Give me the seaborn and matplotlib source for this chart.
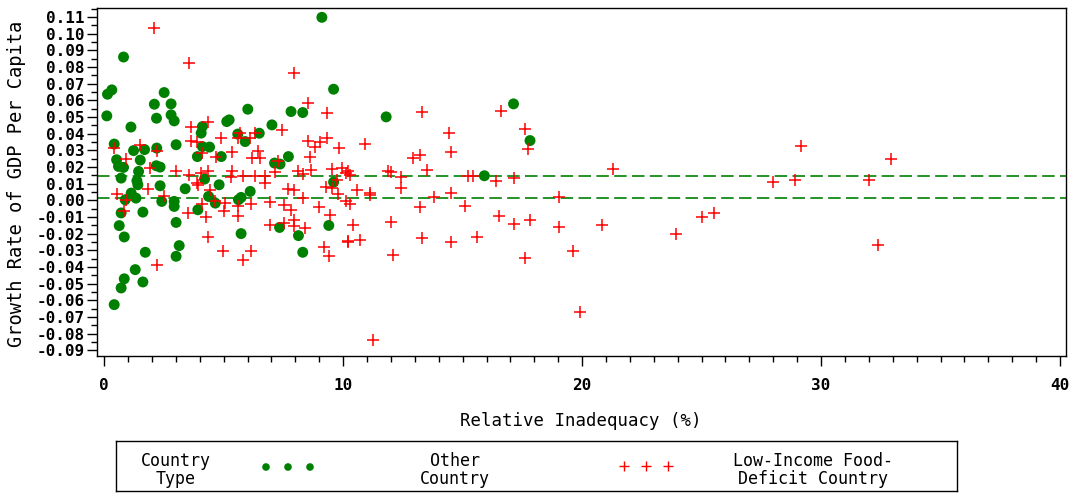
import numpy as np
import pandas as pd
import matplotlib
matplotlib.use("Agg")
import matplotlib.pyplot as plt
from matplotlib.ticker import MultipleLocator, FixedLocator
import seaborn as sns

# Relative inadequacy (%) and growth rate of GDP per capita, by country type
other_x = [0.81, 0.14, 0.32, 2.51, 2.10, 2.80, 0.11, 2.19, 2.80, 2.93, 1.12, 4.11,
           4.06, 0.42, 1.23, 1.69, 1.51, 2.20, 3.01, 0.52, 0.60, 0.81, 1.44, 2.18,
           2.34, 3.90, 4.11, 4.41, 4.20, 0.71, 1.37, 4.90, 1.41, 2.34, 3.39, 4.81,
           1.13, 0.88, 1.33, 2.41, 2.93, 2.93, 4.37, 4.65, 3.92, 0.71, 1.62, 3.01,
           0.63, 0.84, 3.14, 1.72, 3.01, 1.30, 0.84, 1.62, 0.71, 0.42, 9.11, 9.60,
           6.01, 7.82, 8.31, 5.13, 5.23, 7.02, 5.59, 5.90, 6.49, 7.71, 7.13, 7.36,
           6.11, 5.73, 5.62, 9.60, 9.40, 7.34, 5.73, 8.13, 8.31, 11.80, 17.13, 17.82,
           15.91]
other_y = [0.0860, 0.0637, 0.0663, 0.0647, 0.0577, 0.0579, 0.0507, 0.0493, 0.0513,
           0.0477, 0.0440, 0.0443, 0.0404, 0.0338, 0.0299, 0.0305, 0.0242, 0.0314,
           0.0334, 0.0244, 0.0204, 0.0198, 0.0174, 0.0208, 0.0200, 0.0263, 0.0323,
           0.0320, 0.0128, 0.0134, 0.0118, 0.0263, 0.0094, 0.0088, 0.0070, 0.0094,
           0.0044, 0.0004, 0.0014, -0.0006, -0.0006, -0.0036, 0.0024, -0.0016,
           -0.0056, -0.0075, -0.0070, -0.0132, -0.0151, -0.0219, -0.0271, -0.0311,
           -0.0335, -0.0415, -0.0470, -0.0489, -0.0525, -0.0625, 0.1098, 0.0667,
           0.0547, 0.0533, 0.0527, 0.0473, 0.0483, 0.0453, 0.0398, 0.0353, 0.0403,
           0.0263, 0.0224, 0.0218, 0.0054, 0.0018, 0.0004, 0.0110, -0.0150, -0.0162,
           -0.0199, -0.0211, -0.0311, 0.0501, 0.0579, 0.0359, 0.0148]

lifdc_x = [2.10, 3.53, 3.64, 4.34, 4.90, 3.64, 3.88, 1.51, 0.42, 2.20, 4.11, 4.70,
           0.92, 1.90, 3.01, 3.53, 4.06, 4.34, 3.88, 0.53, 0.92, 1.83, 2.51, 0.81,
           3.92, 4.44, 4.11, 4.64, 3.50, 4.26, 4.34, 2.20, 4.99, 7.95, 8.55, 9.34,
           7.43, 6.30, 5.69, 5.62, 6.11, 8.55, 9.04, 8.83, 9.34, 9.83, 6.43, 5.33,
           6.20, 6.53, 8.62, 7.29, 5.33, 5.30, 5.83, 6.32, 6.74, 7.15, 8.13, 8.30,
           8.65, 9.53, 9.95, 10.10, 10.30, 9.74, 6.74, 7.69, 7.95, 9.29, 9.53, 9.80,
           8.34, 6.92, 7.54, 7.82, 9.00, 10.10, 10.30, 5.06, 5.03, 5.62, 5.62, 6.15,
           9.43, 6.92, 7.54, 7.95, 7.95, 8.41, 10.40, 6.13, 5.83, 9.22, 9.41, 10.20,
           13.32, 16.61, 17.62, 17.73, 14.41, 14.51, 10.92, 12.92, 13.22, 13.53,
           10.20, 11.87, 12.00, 12.43, 15.24, 15.42, 16.39, 17.13, 10.60, 11.13,
           11.13, 12.43, 14.52, 13.82, 19.05, 13.22, 15.10, 16.54, 17.15, 17.82,
           19.04, 12.00, 10.22, 10.71, 13.32, 14.52, 15.62, 12.10, 17.60, 11.23,
           21.31, 20.85, 19.64, 19.92, 23.93, 25.00, 25.52, 28.00, 28.91, 29.18,
           32.02, 32.92, 32.40]
lifdc_y = [0.1032, 0.0823, 0.0440, 0.0473, 0.0374, 0.0357, 0.0353, 0.0334, 0.0317,
           0.0299, 0.0284, 0.0260, 0.0250, 0.0194, 0.0174, 0.0154, 0.0164, 0.0174,
           0.0104, 0.0040, 0.0000, 0.0070, 0.0024, -0.0066, 0.0094, 0.0064, -0.0022,
           -0.0002, -0.0075, -0.0099, -0.0221, -0.0385, -0.0301, 0.0763, 0.0583,
           0.0527, 0.0423, 0.0403, 0.0403, 0.0377, 0.0374, 0.0357, 0.0353, 0.0323,
           0.0374, 0.0314, 0.0299, 0.0290, 0.0254, 0.0254, 0.0263, 0.0234, 0.0174,
           0.0140, 0.0144, 0.0144, 0.0144, 0.0168, 0.0174, 0.0158, 0.0180, 0.0188,
           0.0194, 0.0164, 0.0154, 0.0124, 0.0104, 0.0070, 0.0060, 0.0078, 0.0074,
           0.0040, 0.0014, -0.0010, -0.0026, -0.0056, -0.0040, -0.0006, -0.0022,
           -0.0016, -0.0066, -0.0036, -0.0096, -0.0022, -0.0086, -0.0146, -0.0135,
           -0.0116, -0.0156, -0.0165, -0.0146, -0.0301, -0.0355, -0.0279, -0.0331,
           -0.0246, 0.0529, 0.0537, 0.0429, 0.0310, 0.0407, 0.0293, 0.0340, 0.0254,
           0.0274, 0.0180, 0.0174, 0.0174, 0.0168, 0.0138, 0.0144, 0.0144, 0.0118,
           0.0134, 0.0064, 0.0044, 0.0030, 0.0074, 0.0044, 0.0020, 0.0018, -0.0040,
           -0.0032, -0.0092, -0.0141, -0.0116, -0.0162, -0.0130, -0.0251, -0.0240,
           -0.0225, -0.0251, -0.0221, -0.0325, -0.0345, -0.0840, 0.0188, -0.0150,
           -0.0305, -0.0668, -0.0199, -0.0100, -0.0075, 0.0110, 0.0120, 0.0329,
           0.0120, 0.0248, -0.0269]

# Horizontal reference levels of the growth rate
ref_levels = [0.0144, 0.0014]

x_ticks = [0, 10, 20, 30, 40]
y_ticks = [-0.09, -0.08, -0.07, -0.06, -0.05, -0.04, -0.03, -0.02, -0.01, 0.00,
           0.01, 0.02, 0.03, 0.04, 0.05, 0.06, 0.07, 0.08, 0.09, 0.10, 0.11]
y_tick_labels = ["-0.09", "-0.08", "-0.07", "-0.06", "-0.05", "-0.04", "-0.03",
                 "-0.02", "-0.01", "0.00", "0.01", "0.02", "0.03", "0.04", "0.05",
                 "0.06", "0.07", "0.08", "0.09", "0.10", "0.11"]

type_names = ["Other\nCountry", "Low-Income Food-\nDeficit Country"]
GREEN = "#008000"
RED = "#ff0000"

df = pd.concat([
    pd.DataFrame({"ri": other_x, "growth": other_y, "ctype": "other"}),
    pd.DataFrame({"ri": lifdc_x, "growth": lifdc_y, "ctype": "lifdc"}),
], ignore_index=True)

sns.set_theme(style="ticks")
plt.rcParams["font.family"] = ["DejaVu Sans Mono"]

W, H = 1073, 493
fig = plt.figure(figsize=(W / 100, H / 100), dpi=100)
ax = fig.add_axes([97 / W, 1 - 356 / H, (1066 - 97) / W, (356 - 8) / H])

for lvl in ref_levels:
    ax.axhline(lvl, color=GREEN, lw=1.2, ls=(0, (7.5, 3.2)), zorder=2)

sns.scatterplot(data=df[df.ctype == "other"], x="ri", y="growth", ax=ax,
                marker="o", color=GREEN, s=62, edgecolor="none",
                legend=False, zorder=3)
sns.scatterplot(data=df[df.ctype == "lifdc"], x="ri", y="growth", ax=ax,
                marker="+", color=RED, s=80, linewidth=1.1,
                legend=False, zorder=4)

ax.set_xlim(-0.3, 40.25)
ax.set_ylim(-0.0933, 0.1154)
ax.xaxis.set_major_locator(FixedLocator(x_ticks))
ax.xaxis.set_minor_locator(MultipleLocator(1))
ax.set_yticks(y_ticks)
ax.set_yticklabels(y_tick_labels)
ax.yaxis.set_minor_locator(MultipleLocator(0.005))
ax.set_xticklabels([str(t) for t in x_ticks])

ax.tick_params(axis="both", which="major", direction="out", length=7, width=1,
               color="black", labelcolor="black")
ax.tick_params(axis="both", which="minor", direction="out", length=4, width=1,
               color="black")
ax.tick_params(axis="x", which="both", bottom=True, pad=9)
ax.tick_params(axis="y", which="both", left=True, pad=2)
for lab in ax.get_yticklabels():
    lab.set_fontsize(11.5)
    lab.set_fontweight("bold")
for lab in ax.get_xticklabels():
    lab.set_fontsize(11.5)
    lab.set_fontweight("bold")

for sp in ax.spines.values():
    sp.set_visible(True)
    sp.set_color("black")
    sp.set_linewidth(1.0)

ax.set_xlabel("")
ax.set_ylabel("")
fig.text(581 / W, 1 - 421 / H, "Relative Inadequacy (%)", ha="center", va="center",
         fontsize=12.5, color="black")
fig.text(17 / W, 1 - 184 / H, "Growth Rate of GDP Per Capita", ha="center",
         va="center", rotation=90, fontsize=13.5, color="black")

# Legend panel
lx0, ly0, lx1, ly1 = 116, 441, 957, 491
lax = fig.add_axes([lx0 / W, 1 - ly1 / H, (lx1 - lx0) / W, (ly1 - ly0) / H])
lax.set_xlim(lx0, lx1)
lax.set_ylim(ly1, ly0)
lax.set_xticks([])
lax.set_yticks([])
for sp in lax.spines.values():
    sp.set_color("black")
    sp.set_linewidth(1.0)

lax.text(176, 470, "Country\nType", ha="center", va="center", fontsize=12,
         linespacing=1.05, color="black")
lax.scatter([266, 288, 310], [467, 467, 467], marker="o", s=30, color=GREEN,
            edgecolor="none")
lax.text(455, 470, type_names[0], ha="center", va="center", fontsize=12,
         linespacing=1.05, color="black")
lax.scatter([624, 646, 668], [466, 466, 466], marker="+", s=55, color=RED,
            linewidth=1.0)
lax.text(813, 470, type_names[1], ha="center", va="center", fontsize=12,
         linespacing=1.05, color="black")

fig.savefig("out.png", dpi=100, facecolor="white")
